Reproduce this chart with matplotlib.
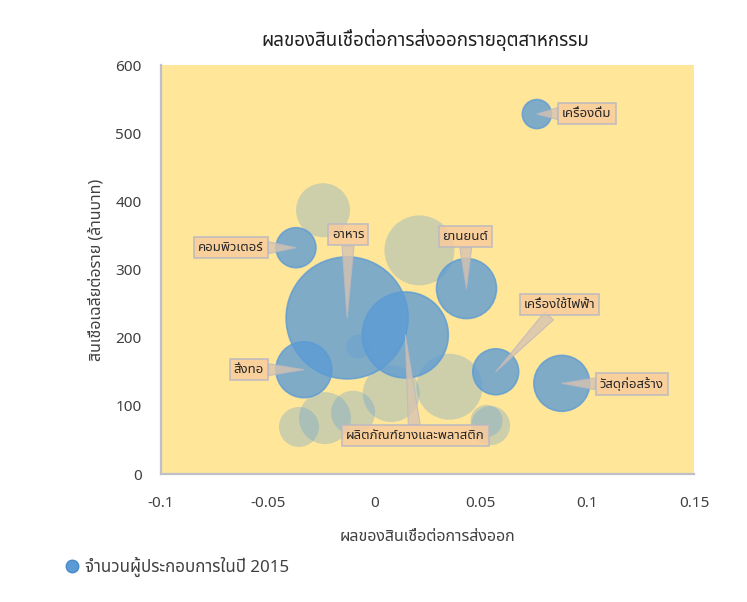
import matplotlib
matplotlib.use("Agg")
import matplotlib.pyplot as plt
from matplotlib import font_manager
from matplotlib.lines import Line2D
import numpy as np

# pick a Thai-capable font that is installed
names = set(f.name for f in font_manager.fontManager.ttflist)
thai_font = "DejaVu Sans"
for cand in ["Noto Sans Thai", "Noto Sans Thai UI", "Sarabun", "Prompt", "Kanit", "Athiti"]:
    if cand in names:
        thai_font = cand
        break
plt.rcParams["font.family"] = [thai_font, "Noto Sans", "DejaVu Sans"]

# labelled industries
labels = ["เครื่องดื่ม", "คอมพิวเตอร์", "อาหาร", "ยานยนต์",
          "ผลิตภัณฑ์ยางและพลาสติก", "เครื่องใช้ไฟฟ้า", "วัสดุก่อสร้าง", "สิ่งทอ"]
effect = [0.0763, -0.0367, -0.0127, 0.0433, 0.0146, 0.0570, 0.0880, -0.0330]
credit = [528, 332, 229, 272, 204, 150, 133, 153]
firms = [340, 645, 6000, 1450, 2980, 850, 1260, 1260]

# other industries (faded, unlabelled)
effect_o = [-0.0240, 0.0212, -0.0075, 0.0353, 0.0080, -0.0353, -0.0231, -0.0099, 0.0546, 0.0527]
credit_o = [387, 328, 187, 128, 118, 69, 82, 90, 71, 78]
firms_o = [1175, 1975, 232, 1756, 1310, 645, 1090, 780, 613, 413]

# label offsets from bubble centre, in pixels
lab_dx = [50, -65, 1, -1, 10, 64, 70, -55]
lab_dy = [1, 0, 83, 52, -101, 67, -1, 0]

blue = "#5B9BD5"
max_r_px = 61  # radius of the largest bubble in pixels


def bubble_s(vals):
    r_px = max_r_px * np.sqrt(np.array(vals) / max(firms))
    return (2 * r_px * 72 / 100) ** 2


fig = plt.figure(figsize=(7.47, 6.02), dpi=100)
ax = fig.add_axes([161 / 747, 1 - 474 / 602, (694 - 161) / 747, (474 - 65) / 602])
ax.set_facecolor("#FFE699")

ax.scatter(effect_o, credit_o, s=bubble_s(firms_o), color=blue, alpha=0.3,
           linewidths=0, zorder=2)
ax.scatter(effect, credit, s=bubble_s(firms), facecolor=blue, edgecolor=blue,
           alpha=0.78, linewidths=1.2, zorder=3)

for i, lab in enumerate(labels):
    ax.annotate(lab, xy=(effect[i], credit[i]), xytext=(lab_dx[i], lab_dy[i]),
                textcoords="offset pixels", ha="center", va="center",
                fontsize=9.5, color="#262626", zorder=5,
                bbox=dict(boxstyle="square,pad=0.3", fc="#F8CB9C", ec="#B8B8C4",
                          lw=1.2, alpha=0.85),
                arrowprops=dict(arrowstyle="wedge,tail_width=0.9,shrink_factor=0.5",
                                fc="#D8C4B0", ec="#BDB8BE", alpha=0.8,
                                shrinkA=0, shrinkB=0, lw=0.8))

ax.set_xlim(-0.1, 0.15)
ax.set_ylim(0, 600)
ax.set_xticks([-0.1, -0.05, 0, 0.05, 0.1, 0.15])
ax.set_xticklabels(["-0.1", "-0.05", "0", "0.05", "0.1", "0.15"])
ax.set_yticks(range(0, 601, 100))
ax.tick_params(length=0, labelsize=11, colors="#404040")
ax.tick_params(axis="x", pad=16)
ax.tick_params(axis="y", pad=14)

for side in ["top", "right"]:
    ax.spines[side].set_visible(False)
for side in ["left", "bottom"]:
    ax.spines[side].set_color("#BFBFC9")
    ax.spines[side].set_linewidth(1.6)

ax.set_xlabel("ผลของสินเชื่อต่อการส่งออก", fontsize=11.5, color="#404040", labelpad=13)
ax.set_ylabel("สินเชื่อเฉลี่ยต่อราย (ล้านบาท)", fontsize=11.5, color="#404040", labelpad=8)
fig.text(425 / 747, 1 - 40 / 602, "ผลของสินเชื่อต่อการส่งออกรายอุตสาหกรรม",
         ha="center", va="center", fontsize=13.5, color="#202020")

handle = Line2D([], [], linestyle="none", marker="o", markersize=9,
                markerfacecolor=blue, markeredgecolor="#4A8AC8")
fig.legend([handle], ["จำนวนผู้ประกอบการในปี 2015"], loc="center left",
           bbox_to_anchor=(66 / 747, 1 - 567 / 602), frameon=False,
           fontsize=12.2, handlelength=0.75, handletextpad=0.35,
           borderaxespad=0, borderpad=0, labelcolor="#404040")

fig.savefig("out.png")
